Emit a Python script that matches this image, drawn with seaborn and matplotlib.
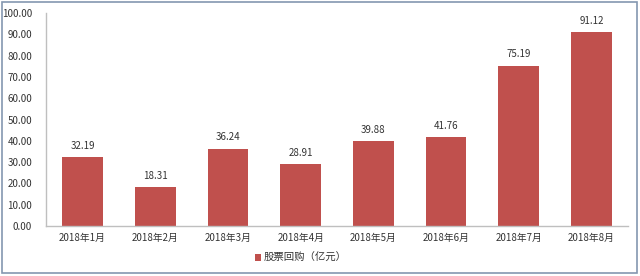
import matplotlib
matplotlib.use("Agg")
import matplotlib.pyplot as plt
import seaborn as sns
import pandas as pd
from matplotlib.patches import Rectangle, Patch

categories = ["2018年1月", "2018年2月", "2018年3月", "2018年4月",
              "2018年5月", "2018年6月", "2018年7月", "2018年8月"]
values = [32.19, 18.31, 36.24, 28.91, 39.88, 41.76, 75.19, 91.12]
series_name = "股票回购（亿元）"
yticks = [0, 10, 20, 30, 40, 50, 60, 70, 80, 90, 100]

sns.set_theme(style="white")
plt.rcParams['font.family'] = ['Noto Sans CJK SC', 'DejaVu Sans']

df = pd.DataFrame({"month": categories, "value": values})

fig = plt.figure(figsize=(6.4, 2.76), dpi=100)
ax = fig.add_axes([0.072, 0.181, 0.909, 0.772])
bar_color = "#C0504D"
sns.barplot(data=df, x="month", y="value", color=bar_color, width=0.56,
            saturation=1, ax=ax, edgecolor="none")

for p, v in zip(ax.patches, values):
    ax.text(p.get_x() + p.get_width() / 2, v + 3.0, f"{v:.2f}",
            ha="center", va="bottom", fontsize=7, color="#333333")

ax.set_ylim(0, 100)
ax.set_yticks(yticks)
ax.set_yticklabels([f"{t:.2f}" for t in yticks], fontsize=7, color="#333333")
ax.tick_params(axis="x", labelsize=7, labelcolor="#333333", length=0, pad=5)
ax.tick_params(axis="y", length=0, pad=10)
ax.set_xlabel("")
ax.set_ylabel("")
ax.set_xlim(-0.5, len(categories) - 0.5)
for s in ["top", "right"]:
    ax.spines[s].set_visible(False)
for s in ["left", "bottom"]:
    ax.spines[s].set_color("#BFBFBF")
    ax.spines[s].set_linewidth(1.0)

handle = Patch(facecolor=bar_color, edgecolor="none")
fig.legend([handle], [series_name], loc="center", bbox_to_anchor=(0.47, 0.065),
           frameon=False, fontsize=7.5, handlelength=0.6, handleheight=0.6,
           handletextpad=0.3, labelcolor="#333333")

fig.patches.append(Rectangle((0.003, 0.012), 0.992, 0.982, transform=fig.transFigure,
                             fill=False, edgecolor="#8497B0", linewidth=1.2))

fig.savefig("out.png", dpi=100, facecolor="white")
